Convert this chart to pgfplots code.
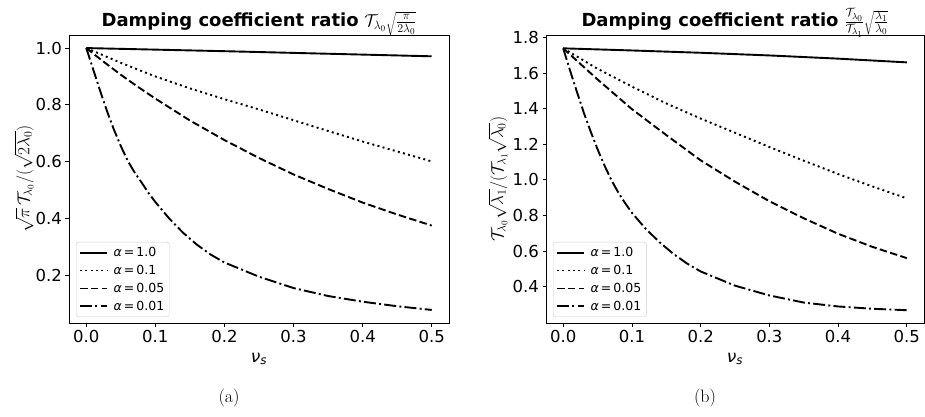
\documentclass[border=0pt]{standalone}
\usepackage{fontspec}
\setsansfont{DejaVu Sans}
\usepackage{pgfplots}
\pgfplotsset{compat=1.18}

\pgfplotstableread{
nu v
0 1
0.1 0.9945
0.2 0.989
0.25 0.986
0.3 0.983
0.4 0.977
0.5 0.971
}\Laone
\pgfplotstableread{
nu v
0 1
0.05 0.948
0.1 0.9
0.15 0.858
0.2 0.82
0.25 0.784
0.3 0.746
0.35 0.708
0.4 0.671
0.45 0.636
0.5 0.601
}\Latenth
\pgfplotstableread{
nu v
0 1
0.025 0.952
0.05 0.906
0.075 0.863
0.1 0.822
0.15 0.745
0.2 0.676
0.25 0.613
0.3 0.555
0.35 0.504
0.4 0.456
0.45 0.414
0.5 0.375
}\Lafive
\pgfplotstableread{
nu v
0 1
0.01 0.925
0.02 0.85
0.03 0.778
0.04 0.713
0.05 0.655
0.06 0.603
0.07 0.562
0.08 0.527
0.09 0.49
0.1 0.458
0.12 0.40
0.14 0.35
0.16 0.308
0.18 0.273
0.2 0.245
0.25 0.195
0.3 0.155
0.35 0.127
0.4 0.107
0.45 0.091
0.5 0.078
}\Lahundredth

\pgfplotstableread{
nu v
0 1.74
0.1 1.728
0.2 1.715
0.3 1.70
0.4 1.682
0.5 1.661
}\Rone
\pgfplotstableread{
nu v
0 1.74
0.05 1.625
0.1 1.525
0.15 1.43
0.2 1.345
0.25 1.265
0.3 1.185
0.35 1.108
0.4 1.033
0.45 0.963
0.5 0.896
}\Rtenth
\pgfplotstableread{
nu v
0 1.74
0.05 1.565
0.1 1.398
0.15 1.252
0.2 1.11
0.25 0.99
0.3 0.88
0.35 0.784
0.4 0.697
0.45 0.623
0.5 0.56
}\Rfive
\pgfplotstableread{
nu v
0 1.74
0.01 1.615
0.02 1.495
0.03 1.378
0.04 1.272
0.05 1.172
0.06 1.082
0.07 1.0
0.08 0.93
0.09 0.87
0.1 0.815
0.12 0.725
0.14 0.65
0.16 0.585
0.18 0.53
0.2 0.485
0.25 0.405
0.3 0.35
0.35 0.31
0.4 0.288
0.45 0.275
0.5 0.267
}\Rhundredth

\newcommand{\al}[1]{\hspace{3.5bp}{\itshape α}\,=\,#1\hspace{3bp}}

\pgfplotsset{
  every axis title shift=0pt,
  mpl/.style={
    scale only axis,
    width=380bp, height=288bp,
    xmin=-0.025, xmax=0.525,
    xtick={0,0.1,0.2,0.3,0.4,0.5},
    /pgf/number format/assume math mode=true,
    xticklabel style={/pgf/number format/.cd, fixed, fixed zerofill, precision=1},
    yticklabel style={/pgf/number format/.cd, fixed, fixed zerofill, precision=1},
    tick label style={font=\fontsize{16.5bp}{19bp}\sffamily},
    tick align=outside,
    major tick length=3.5bp,
    xtick pos=bottom, ytick pos=left,
    axis line style={line width=0.8bp},
    every tick/.style={black, line width=0.8bp},
    xlabel={{\itshape ν}\textsubscript{\itshape s}},
    xlabel style={at={(axis description cs:0.5,-0.125)}, anchor=center, font=\fontsize{17bp}{20bp}\sffamily},
    ylabel style={at={(axis description cs:-0.118,0.5)}, anchor=center, font=\fontsize{17bp}{20bp}\selectfont},
    title style={font=\fontsize{18bp}{21bp}\sffamily, at={(0.5,1)}, anchor=base, yshift=8.3bp},
    legend cell align=left,
    legend style={at={(0,0)}, anchor=south west, xshift=7bp, yshift=6bp,
      font=\fontsize{12.5bp}{15bp}\sffamily,
      draw=black!20, rounded corners=2.5bp, fill=white, fill opacity=0.8, text opacity=1,
      inner xsep=3bp, inner ysep=3bp, row sep=3.2bp},
    legend image code/.code={\draw[black, line width=1.9bp, ##1] (0bp,0bp) -- (27bp,0bp);},
  },
  solidstyle/.style={black, line width=1.9bp, solid},
  dotstyle/.style={black, line width=1.9bp, dash pattern=on 2bp off 3.3bp},
  dashstyle/.style={black, line width=1.9bp, dash pattern=on 7.5bp off 3.3bp},
  dashdotstyle/.style={black, line width=1.9bp, dash pattern=on 12bp off 3.2bp on 2bp off 3.2bp},
}

\begin{document}
\begin{tikzpicture}
\useasboundingbox (0,0) rectangle (925bp,417bp);
\begin{axis}[mpl, at={(69bp,94bp)}, anchor=south west,
  ymin=0.032, ymax=1.046,
  ytick={0.2,0.4,0.6,0.8,1.0},
  ylabel={$\sqrt{\pi}\,\mathcal{T}_{\lambda_0}/(\sqrt{2\lambda_0})$},
  title={\textbf{Damping coefficient ratio} $\mathcal{T}_{\lambda_0}\sqrt{\frac{\pi}{2\lambda_0}}$}]
\addplot[solidstyle] table[x=nu, y=v] {\Laone};
\addlegendentry{\al{1.0}}
\addplot[dotstyle] table[x=nu, y=v] {\Latenth};
\addlegendentry{\al{0.1}}
\addplot[dashstyle] table[x=nu, y=v] {\Lafive};
\addlegendentry{\al{0.05}}
\addplot[dashdotstyle] table[x=nu, y=v] {\Lahundredth};
\addlegendentry{\al{0.01}}
\end{axis}
\begin{axis}[mpl, at={(546bp,94bp)}, anchor=south west, width=378bp,
  ymin=0.195, ymax=1.815,
  ytick={0.4,0.6,0.8,1.0,1.2,1.4,1.6,1.8},
  ylabel style={at={(axis description cs:-0.127,0.5)}},
  ylabel={$\mathcal{T}_{\lambda_0}\sqrt{\lambda_1}/(\mathcal{T}_{\lambda_1}\sqrt{\lambda_0})$},
  title={\textbf{Damping coefficient ratio} $\frac{\mathcal{T}_{\lambda_0}}{\mathcal{T}_{\lambda_1}}\sqrt{\frac{\lambda_1}{\lambda_0}}$}]
\addplot[solidstyle] table[x=nu, y=v] {\Rone};
\addlegendentry{\al{1.0}}
\addplot[dotstyle] table[x=nu, y=v] {\Rtenth};
\addlegendentry{\al{0.1}}
\addplot[dashstyle] table[x=nu, y=v] {\Rfive};
\addlegendentry{\al{0.05}}
\addplot[dashdotstyle] table[x=nu, y=v] {\Rhundredth};
\addlegendentry{\al{0.01}}
\end{axis}
\node[font=\fontsize{18bp}{20bp}\rmfamily] at (229bp,19bp) {(a)};
\node[font=\fontsize{18bp}{20bp}\rmfamily] at (705bp,19bp) {(b)};
\end{tikzpicture}
\end{document}
